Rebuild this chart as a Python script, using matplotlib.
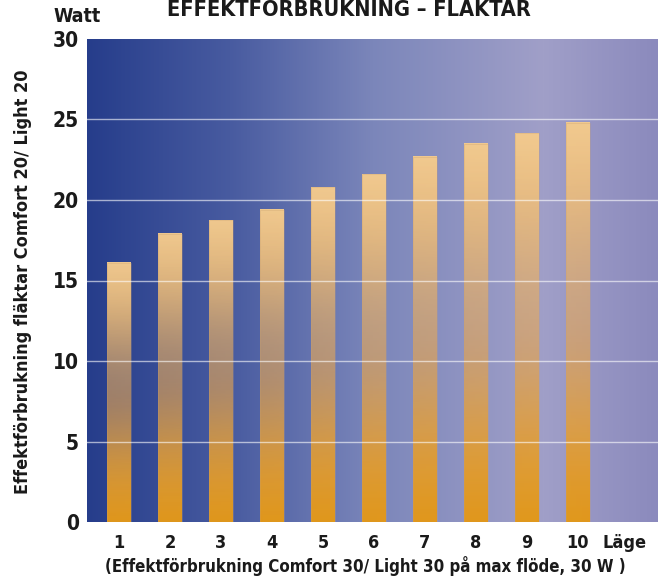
import numpy as np
import matplotlib
matplotlib.use("Agg")
import matplotlib.pyplot as plt
from matplotlib.colors import LinearSegmentedColormap, to_rgb

positions = [1, 2, 3, 4, 5, 6, 7, 8, 9, 10]
values = [16.1, 17.9, 18.75, 19.4, 20.8, 21.6, 22.7, 23.5, 24.15, 24.8]
xtick_labels = ["1", "2", "3", "4", "5", "6", "7", "8", "9", "10"]
yticks = [0, 5, 10, 15, 20, 25, 30]

plt.rcParams['font.family'] = ['DejaVu Sans']
plt.rcParams['font.stretch'] = 'condensed'

fig = plt.figure(figsize=(6.67, 5.77), dpi=100)
ax = fig.add_axes([87/667, 1-522/577, (658-87)/667, (522-39)/577])
xl = (0.373, 11.57)
ax.set_xlim(*xl)
ax.set_ylim(0, 30)

bg = LinearSegmentedColormap.from_list("bg", [
    (0.0, "#263d8b"), (0.25, "#485ba0"), (0.5, "#7b86ba"),
    (0.8, "#a09fc8"), (1.0, "#8b8abd")])
grad = np.linspace(0, 1, 512)[None, :]
ax.imshow(grad, cmap=bg, aspect='auto', extent=(xl[0], xl[1], 0, 30), zorder=0)

w = 0.47
bot = np.array(to_rgb("#e2981a"))
mid = np.array(to_rgb("#e6a550"))
top = np.array(to_rgb("#f4cb8e"))
n = 256
t = np.linspace(0, 1, n)
rgba = np.zeros((n, 1, 4))
for i, tt in enumerate(t):
    if tt < 0.45:
        c = bot + (mid - bot) * (tt / 0.45)
    else:
        c = mid + (top - mid) * ((tt - 0.45) / 0.55)
    a = 1.0 - 0.38 * np.exp(-((tt - 0.52) / 0.28) ** 2)
    rgba[i, 0, :3] = c
    rgba[i, 0, 3] = a
for x, v in zip(positions, values):
    ax.imshow(rgba, origin='lower', aspect='auto',
              extent=(x - w/2, x + w/2, 0, v), zorder=1, interpolation='bilinear')
ax.bar(positions, values, width=w, color='none', edgecolor='#c8a070', linewidth=0.4, alpha=0.5, zorder=1.5)

for y in [5, 10, 15, 20, 25]:
    ax.axhline(y, color='white', alpha=0.6, lw=1.0, zorder=2)

ax.set_xlim(*xl)
ax.set_ylim(0, 30)
for s in ax.spines.values():
    s.set_visible(False)
ax.set_yticks(yticks)
ax.set_yticklabels([str(v) for v in yticks], fontsize=15, fontweight='bold', color='#1a1a1a')
ax.set_xticks(positions)
ax.set_xticklabels(xtick_labels, fontsize=13, fontweight='bold', color='#1a1a1a')
ax.tick_params(axis='y', length=0, pad=6)
ax.tick_params(axis='x', length=0, pad=9)

fig.text(602/667, 1-543/577, "Läge", fontsize=13, fontweight='bold', color='#1a1a1a', ha='left', va='center')
fig.text(365/667, 1-566/577, "(Effektförbrukning Comfort 30/ Light 30 på max flöde, 30 W )", fontsize=12.1,
         fontweight='bold', color='#1a1a1a', ha='center', va='center')
fig.text(349/667, 1-10/577, "EFFEKTFÖRBRUKNING – FLÄKTAR", fontsize=15.7, fontweight='bold', color='#1a1a1a',
         ha='center', va='center')
fig.text(53/667, 1-16/577, "Watt", fontsize=14, fontweight='bold', color='#1a1a1a', ha='left', va='center')
fig.text(23/667, 1-282/577, "Effektförbrukning fläktar Comfort 20/ Light 20", fontsize=13, fontweight='bold',
         color='#1a1a1a', ha='center', va='center', rotation=90)

fig.savefig("out.png", dpi=100)
